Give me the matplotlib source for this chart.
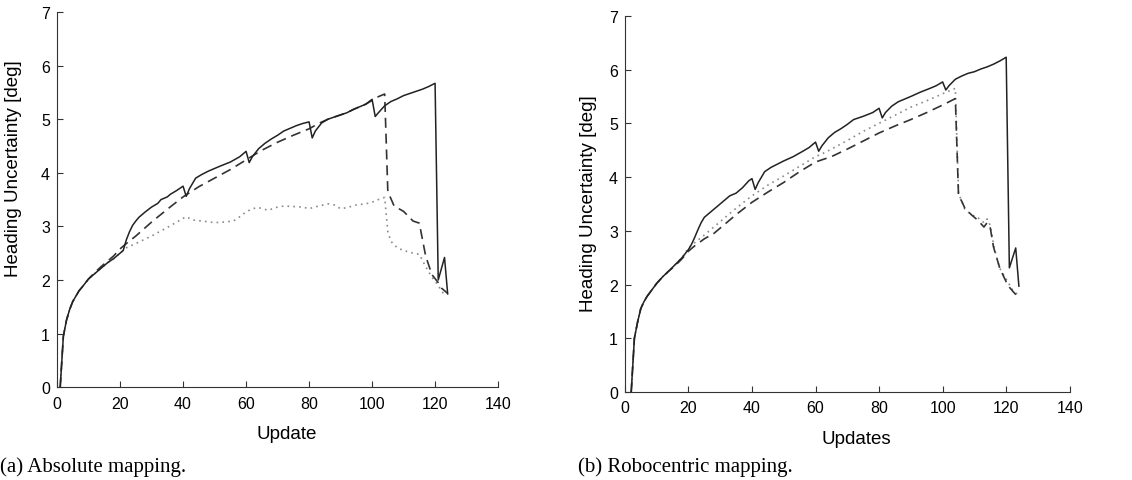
import matplotlib.pyplot as plt

# ---- (a) Absolute mapping ----
abs_solid_x = [1, 2, 3, 4, 5, 6, 7, 8, 10, 12, 14, 16, 18, 20, 21, 22, 23, 24, 25, 26, 28, 30, 32, 33, 35, 36, 38, 40,
               41, 42, 44, 46, 48, 50, 52, 55, 58, 60, 61, 62, 64, 66, 68, 70, 72, 74, 76, 78, 80, 81, 82, 84, 86, 88,
               90, 92, 94, 96, 98, 100, 101, 102, 104, 106, 108, 110, 112, 114, 116, 118, 120, 121, 123, 124]
abs_solid_y = [0, 0.95, 1.25, 1.45, 1.6, 1.7, 1.8, 1.87, 2.02, 2.12, 2.22, 2.32, 2.4, 2.5, 2.55, 2.75, 2.9, 3.02, 3.1,
               3.17, 3.27, 3.36, 3.43, 3.5, 3.55, 3.6, 3.67, 3.75, 3.56, 3.7, 3.9, 3.97, 4.03, 4.08, 4.13, 4.2, 4.3,
               4.4, 4.19, 4.3, 4.45, 4.55, 4.63, 4.7, 4.78, 4.83, 4.88, 4.92, 4.95, 4.65, 4.78, 4.93, 5.0, 5.04, 5.08,
               5.12, 5.18, 5.23, 5.28, 5.37, 5.05, 5.12, 5.25, 5.33, 5.38, 5.44, 5.48, 5.52, 5.56, 5.61, 5.67, 2.0,
               2.42, 1.74]

abs_dashed_x = [1, 2, 3, 4, 5, 6, 7, 8, 10, 12, 14, 16, 18, 20, 22, 25, 30, 35, 40, 45, 50, 55, 60, 63, 65, 70, 75,
                80, 83, 86, 88, 90, 92, 94, 96, 98, 100, 102, 104, 105, 107, 110, 113, 115, 117, 119, 121, 122, 124]
abs_dashed_y = [0, 0.95, 1.25, 1.45, 1.6, 1.7, 1.8, 1.87, 2.02, 2.14, 2.25, 2.35, 2.45, 2.58, 2.68, 2.82, 3.08, 3.32,
                3.55, 3.74, 3.9, 4.06, 4.24, 4.35, 4.42, 4.57, 4.7, 4.82, 4.92, 5.0, 5.04, 5.08, 5.12, 5.18, 5.23, 5.28,
                5.35, 5.42, 5.47, 3.65, 3.38, 3.28, 3.1, 3.06, 2.45, 2.1, 1.95, 1.85, 1.75]

abs_dotted_x = [1, 2, 3, 4, 5, 6, 7, 8, 10, 12, 14, 16, 18, 20, 22, 25, 30, 35, 38, 40, 41, 43, 46, 50, 53, 56, 58,
                60, 62, 64, 67, 70, 72, 75, 78, 80, 83, 86, 88, 90, 92, 95, 98, 100, 102, 104, 105, 106, 108, 110, 113,
                115, 117, 119, 121, 122, 123]
abs_dotted_y = [0, 0.95, 1.25, 1.45, 1.6, 1.7, 1.8, 1.87, 2.02, 2.12, 2.22, 2.32, 2.4, 2.5, 2.6, 2.68, 2.82, 2.98,
                3.08, 3.15, 3.18, 3.12, 3.1, 3.07, 3.08, 3.1, 3.18, 3.27, 3.33, 3.35, 3.3, 3.36, 3.38, 3.37, 3.36, 3.33,
                3.38, 3.42, 3.4, 3.33, 3.35, 3.4, 3.42, 3.45, 3.5, 3.54, 2.9, 2.72, 2.6, 2.55, 2.5, 2.48, 2.25, 2.05,
                1.9, 1.8, 1.72]

# ---- (b) Robocentric mapping ----
robo_solid_x = [2, 3, 4, 5, 6, 7, 8, 10, 12, 14, 16, 18, 20, 21, 22, 23, 24, 25, 27, 30, 33, 35, 37, 39, 40, 41, 42,
                44, 46, 48, 50, 53, 56, 58, 60, 61, 62, 64, 66, 68, 70, 72, 75, 78, 80, 81, 82, 84, 86, 88, 90, 93, 96,
                98, 100, 101, 102, 104, 106, 108, 110, 112, 114, 116, 118, 120, 121, 123, 124]
robo_solid_y = [0, 1.0, 1.3, 1.55, 1.68, 1.78, 1.86, 2.02, 2.15, 2.26, 2.38, 2.5, 2.65, 2.75, 2.88, 3.02, 3.15, 3.25,
                3.35, 3.5, 3.65, 3.7, 3.8, 3.93, 3.97, 3.77, 3.9, 4.1, 4.18, 4.24, 4.3, 4.38, 4.48, 4.55, 4.65, 4.48,
                4.58, 4.73, 4.83, 4.9, 4.98, 5.07, 5.13, 5.2, 5.28, 5.1, 5.2, 5.32, 5.4, 5.45, 5.5, 5.58, 5.65, 5.7,
                5.77, 5.62, 5.7, 5.82, 5.88, 5.93, 5.96, 6.01, 6.05, 6.1, 6.16, 6.23, 2.31, 2.68, 1.97]

robo_dashed_x = [2, 3, 4, 5, 6, 7, 8, 10, 12, 14, 16, 18, 20, 22, 25, 28, 30, 35, 40, 45, 50, 55, 60, 62, 65, 70, 75,
                 80, 85, 90, 95, 100, 104, 105, 106, 107, 109, 111, 113, 114, 115, 116, 117, 118, 120, 121, 122, 124]
robo_dashed_y = [0, 1.0, 1.3, 1.55, 1.68, 1.78, 1.86, 2.02, 2.15, 2.26, 2.36, 2.48, 2.62, 2.72, 2.85, 2.95, 3.05, 3.3,
                 3.53, 3.72, 3.9, 4.1, 4.28, 4.32, 4.38, 4.52, 4.67, 4.82, 4.95, 5.07, 5.2, 5.34, 5.46, 3.65, 3.55,
                 3.42, 3.3, 3.2, 3.07, 3.15, 3.05, 2.7, 2.5, 2.3, 2.05, 1.95, 1.88, 1.75]

robo_dotted_x = [2, 3, 4, 5, 6, 7, 8, 10, 12, 14, 16, 18, 20, 22, 25, 30, 35, 40, 45, 50, 55, 60, 62, 65, 70, 75, 80,
                 85, 90, 95, 100, 104, 105, 106, 107, 109, 111, 113, 114, 115, 116, 117, 118, 120, 121, 122, 123, 124]
robo_dotted_y = [0, 1.0, 1.3, 1.55, 1.68, 1.78, 1.86, 2.02, 2.15, 2.26, 2.38, 2.5, 2.68, 2.78, 2.92, 3.17, 3.42, 3.65,
                 3.85, 4.02, 4.2, 4.38, 4.43, 4.52, 4.68, 4.85, 5.0, 5.15, 5.3, 5.42, 5.55, 5.65, 3.7, 3.55, 3.4, 3.3,
                 3.25, 3.15, 3.22, 3.1, 2.75, 2.5, 2.3, 2.1, 2.0, 1.9, 1.85, 1.78]

xticks = [0, 20, 40, 60, 80, 100, 120, 140]
yticks = [0, 1, 2, 3, 4, 5, 6, 7]

plt.rcParams['font.family'] = ['Liberation Sans', 'DejaVu Sans']

fig = plt.figure(figsize=(11.32, 4.81), dpi=100)
ax1 = fig.add_axes([0.0504, 0.193, 0.3896, 0.78])
ax2 = fig.add_axes([0.552, 0.183, 0.393, 0.782])

panels = [
    (ax1, abs_solid_x, abs_solid_y, abs_dashed_x, abs_dashed_y, abs_dotted_x, abs_dotted_y, 'Update', 0.585, -0.08),
    (ax2, robo_solid_x, robo_solid_y, robo_dashed_x, robo_dashed_y, robo_dotted_x, robo_dotted_y, 'Updates', 0.503, -0.062),
]

for ax, sx, sy, dx, dy, ox, oy, xlab, ylab_y, ylab_x in panels:
    ax.plot(ox, oy, color='#8a8a8a', linestyle=(0, (1, 2.5)), linewidth=1.2)
    ax.plot(dx, dy, color='#333333', linestyle=(0, (6, 3.5)), linewidth=1.2)
    ax.plot(sx, sy, color='#222222', linestyle='-', linewidth=1.1)

    ax.set_xlim(0, 140)
    ax.set_ylim(0, 7)
    ax.set_xticks(xticks)
    ax.set_yticks(yticks)
    ax.spines['top'].set_visible(False)
    ax.spines['right'].set_visible(False)
    ax.spines['left'].set_color('#333333')
    ax.spines['bottom'].set_color('#333333')
    ax.tick_params(direction='in', length=4, width=0.8, labelsize=11.5, color='#333333')
    ax.tick_params(axis='x', pad=6)
    ax.tick_params(axis='y', pad=5)

    ax.set_xlabel(xlab, fontsize=13.5)
    ax.xaxis.set_label_coords(0.52, -0.1)
    ax.set_ylabel('Heading Uncertainty [deg]', fontsize=13.5)
    ax.yaxis.set_label_coords(ylab_x, ylab_y)

# Captions
fig.text(0.0, 0.018, '(a) Absolute mapping.', fontsize=15, family='Liberation Serif')
fig.text(0.511, 0.018, '(b) Robocentric mapping.', fontsize=15, family='Liberation Serif')

plt.savefig('out.png', dpi=100)
